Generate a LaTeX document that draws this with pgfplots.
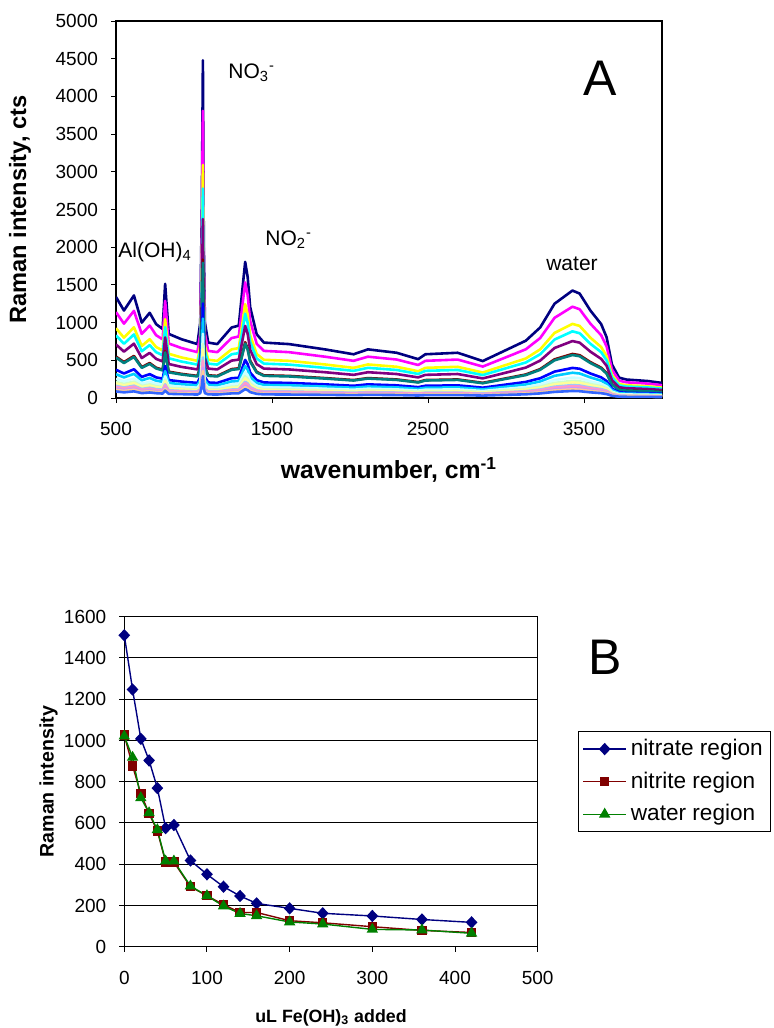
\documentclass[border=0pt]{standalone}
\usepackage{pgfplots}
\pgfplotsset{compat=1.18}
\usepackage{fontspec}
\setmainfont{Liberation Sans}
\definecolor{s01}{HTML}{000080}
\definecolor{s02}{HTML}{FF00FF}
\definecolor{s03}{HTML}{FFFF00}
\definecolor{s04}{HTML}{00FFFF}
\definecolor{s05}{HTML}{800080}
\definecolor{s06}{HTML}{800000}
\definecolor{s07}{HTML}{008080}
\definecolor{s08}{HTML}{0000FF}
\definecolor{s09}{HTML}{00CCFF}
\definecolor{s10}{HTML}{CCFFFF}
\definecolor{s11}{HTML}{CCFFCC}
\definecolor{s12}{HTML}{FFFF99}
\definecolor{s13}{HTML}{99CCFF}
\definecolor{s14}{HTML}{FF99CC}
\definecolor{s15}{HTML}{CC99FF}
\definecolor{s16}{HTML}{FFCC99}
\definecolor{s17}{HTML}{3366FF}
\definecolor{wgreen}{HTML}{008000}
\pgfplotsset{
  excel/.style={
    scale only axis,
    tick align=outside,
    xtick pos=bottom, ytick pos=left,
    major tick length=2.5pt,
    axis line style={line width=0.6pt},
    tick style={line width=0.5pt, black},
    tick label style={font=\fontsize{9.5}{11}\selectfont},
    /pgf/number format/assume math mode=true,
    /pgf/number format/1000 sep={},
    scaled ticks=false,
    clip=true,
  },
}
\begin{document}
\begin{tikzpicture}
\path[use as bounding box] (0pt,0pt) rectangle (386.5pt,-514pt);
% ---------------- panel A: spectra
\begin{axis}[
  excel,
  at={(58pt,-10.5pt)}, anchor=north west,
  width=273pt, height=188.5pt,
  xmin=500, xmax=4000, ymin=0, ymax=5000,
  xtick={500,1500,2500,3500},
  ytick distance=500,
  xticklabel style={yshift=-6pt},
  yticklabel style={xshift=-3pt},
  xlabel={wavenumber, cm\textsuperscript{-1}},
  ylabel={Raman intensity, cts},
  xlabel style={at={(axis description cs:0.5,-0.191)}, anchor=center, font=\fontsize{12.4}{14}\selectfont\bfseries},
  ylabel style={at={(axis description cs:-0.1758,0.5)}, anchor=center, font=\fontsize{11.8}{14}\selectfont\bfseries},
  every axis plot/.append style={line width=1.3pt, line join=round},
]
\addplot[s01] coordinates {(500,1340)(551,1160)(615,1360)(665,1000)(716,1130)(757,980)(799,915)(815,1515)(838,850)(919,780)(1022,715)(1040,1000)(1050,2500)(1057,4480)(1063,2000)(1070,1000)(1091,735)(1149,715)(1241,935)(1287,960)(1328,1805)(1344,1605)(1360,1205)(1402,845)(1448,735)(1609,715)(1839,645)(2023,580)(2115,645)(2299,600)(2437,515)(2483,580)(2690,600)(2851,490)(2989,625)(3127,760)(3219,935)(3311,1250)(3426,1425)(3472,1385)(3541,1160)(3610,980)(3645,805)(3679,445)(3725,270)(3771,245)(3909,225)(4000,200)};
\addplot[s02] coordinates {(500,1139)(551,986)(615,1156)(665,850)(716,961)(757,833)(799,778)(815,1288)(838,723)(919,663)(1022,608)(1040,850)(1050,2125)(1057,3808)(1063,1700)(1070,850)(1091,625)(1149,608)(1241,795)(1287,816)(1328,1534)(1344,1364)(1360,1024)(1402,718)(1448,625)(1609,608)(1839,548)(2023,493)(2115,548)(2299,510)(2437,438)(2483,493)(2690,510)(2851,417)(2989,531)(3127,646)(3219,795)(3311,1063)(3426,1211)(3472,1177)(3541,986)(3610,833)(3645,684)(3679,378)(3725,230)(3771,208)(3909,191)(4000,170)};
\addplot[s03] coordinates {(500,925)(551,800)(615,938)(665,690)(716,780)(757,676)(799,631)(815,1045)(838,587)(919,538)(1022,493)(1040,690)(1050,1725)(1057,3091)(1063,1380)(1070,690)(1091,507)(1149,493)(1241,645)(1287,662)(1328,1245)(1344,1107)(1360,831)(1402,583)(1448,507)(1609,493)(1839,445)(2023,400)(2115,445)(2299,414)(2437,355)(2483,400)(2690,414)(2851,338)(2989,431)(3127,524)(3219,645)(3311,863)(3426,983)(3472,956)(3541,800)(3610,676)(3645,555)(3679,307)(3725,186)(3771,169)(3909,155)(4000,138)};
\addplot[s04] coordinates {(500,831)(551,719)(615,843)(665,620)(716,701)(757,608)(799,567)(815,939)(838,527)(919,484)(1022,443)(1040,620)(1050,1550)(1057,2778)(1063,1240)(1070,620)(1091,456)(1149,443)(1241,580)(1287,595)(1328,1119)(1344,995)(1360,747)(1402,524)(1448,456)(1609,443)(1839,400)(2023,360)(2115,400)(2299,372)(2437,319)(2483,360)(2690,372)(2851,304)(2989,388)(3127,471)(3219,580)(3311,775)(3426,884)(3472,859)(3541,719)(3610,608)(3645,499)(3679,276)(3725,167)(3771,152)(3909,140)(4000,124)};
\addplot[s05] coordinates {(500,710)(551,615)(615,721)(665,530)(716,599)(757,519)(799,485)(815,803)(838,451)(919,413)(1022,379)(1040,530)(1050,1325)(1057,2374)(1063,1060)(1070,530)(1091,390)(1149,379)(1241,496)(1287,509)(1328,957)(1344,851)(1360,639)(1402,448)(1448,390)(1609,379)(1839,342)(2023,307)(2115,342)(2299,318)(2437,273)(2483,307)(2690,318)(2851,260)(2989,331)(3127,403)(3219,496)(3311,663)(3426,755)(3472,734)(3541,615)(3610,519)(3645,427)(3679,236)(3725,143)(3771,130)(3909,119)(4000,106)};
\addplot[s06] coordinates {(500,549)(551,476)(615,558)(665,410)(716,463)(757,402)(799,375)(815,621)(838,349)(919,320)(1022,293)(1040,410)(1050,1025)(1057,1837)(1063,820)(1070,410)(1091,301)(1149,293)(1241,383)(1287,394)(1328,740)(1344,658)(1360,494)(1402,346)(1448,301)(1609,293)(1839,264)(2023,238)(2115,264)(2299,246)(2437,211)(2483,238)(2690,246)(2851,201)(2989,256)(3127,312)(3219,383)(3311,513)(3426,584)(3472,568)(3541,476)(3610,402)(3645,330)(3679,182)(3725,111)(3771,100)(3909,92)(4000,82)};
\addplot[s07] coordinates {(500,536)(551,464)(615,544)(665,400)(716,452)(757,392)(799,366)(815,606)(838,340)(919,312)(1022,286)(1040,400)(1050,1000)(1057,1792)(1063,800)(1070,400)(1091,294)(1149,286)(1241,374)(1287,384)(1328,722)(1344,642)(1360,482)(1402,338)(1448,294)(1609,286)(1839,258)(2023,232)(2115,258)(2299,240)(2437,206)(2483,232)(2690,240)(2851,196)(2989,250)(3127,304)(3219,374)(3311,500)(3426,570)(3472,554)(3541,464)(3610,392)(3645,322)(3679,178)(3725,108)(3771,98)(3909,90)(4000,80)};
\addplot[s08] coordinates {(500,375)(551,325)(615,381)(665,280)(716,316)(757,274)(799,256)(815,424)(838,238)(919,218)(1022,200)(1040,280)(1050,700)(1057,1254)(1063,560)(1070,280)(1091,206)(1149,200)(1241,262)(1287,269)(1328,505)(1344,449)(1360,337)(1402,237)(1448,206)(1609,200)(1839,181)(2023,162)(2115,181)(2299,168)(2437,144)(2483,162)(2690,168)(2851,137)(2989,175)(3127,213)(3219,262)(3311,350)(3426,399)(3472,388)(3541,325)(3610,274)(3645,225)(3679,125)(3725,76)(3771,69)(3909,63)(4000,56)};
\addplot[s09] coordinates {(500,315)(551,273)(615,320)(665,235)(716,266)(757,230)(799,215)(815,356)(838,200)(919,183)(1022,168)(1040,235)(1050,588)(1057,1053)(1063,470)(1070,235)(1091,173)(1149,168)(1241,220)(1287,226)(1328,424)(1344,377)(1360,283)(1402,199)(1448,173)(1609,168)(1839,152)(2023,136)(2115,152)(2299,141)(2437,121)(2483,136)(2690,141)(2851,115)(2989,147)(3127,179)(3219,220)(3311,294)(3426,335)(3472,325)(3541,273)(3610,230)(3645,189)(3679,105)(3725,63)(3771,58)(3909,53)(4000,47)};
\addplot[s10] coordinates {(500,255)(551,220)(615,258)(665,190)(716,215)(757,186)(799,174)(815,288)(838,162)(919,148)(1022,136)(1040,190)(1050,475)(1057,851)(1063,380)(1070,190)(1091,140)(1149,136)(1241,178)(1287,182)(1328,343)(1344,305)(1360,229)(1402,161)(1448,140)(1609,136)(1839,123)(2023,110)(2115,123)(2299,114)(2437,98)(2483,110)(2690,114)(2851,93)(2989,119)(3127,144)(3219,178)(3311,238)(3426,271)(3472,263)(3541,220)(3610,186)(3645,153)(3679,85)(3725,51)(3771,47)(3909,43)(4000,38)};
\addplot[s11] coordinates {(500,214)(551,186)(615,218)(665,160)(716,181)(757,157)(799,146)(815,242)(838,136)(919,125)(1022,114)(1040,160)(1050,400)(1057,717)(1063,320)(1070,160)(1091,118)(1149,114)(1241,150)(1287,154)(1328,289)(1344,257)(1360,193)(1402,135)(1448,118)(1609,114)(1839,103)(2023,93)(2115,103)(2299,96)(2437,82)(2483,93)(2690,96)(2851,78)(2989,100)(3127,122)(3219,150)(3311,200)(3426,228)(3472,222)(3541,186)(3610,157)(3645,129)(3679,71)(3725,43)(3771,39)(3909,36)(4000,32)};
\addplot[s12] coordinates {(500,194)(551,168)(615,197)(665,145)(716,164)(757,142)(799,133)(815,220)(838,123)(919,113)(1022,104)(1040,145)(1050,363)(1057,650)(1063,290)(1070,145)(1091,107)(1149,104)(1241,136)(1287,139)(1328,262)(1344,233)(1360,175)(1402,123)(1448,107)(1609,104)(1839,94)(2023,84)(2115,94)(2299,87)(2437,75)(2483,84)(2690,87)(2851,71)(2989,91)(3127,110)(3219,136)(3311,181)(3426,207)(3472,201)(3541,168)(3610,142)(3645,117)(3679,65)(3725,39)(3771,36)(3909,33)(4000,29)};
\addplot[s13] coordinates {(500,161)(551,139)(615,163)(665,120)(716,136)(757,118)(799,110)(815,182)(838,102)(919,94)(1022,86)(1040,120)(1050,300)(1057,538)(1063,240)(1070,120)(1091,88)(1149,86)(1241,112)(1287,115)(1328,217)(1344,193)(1360,145)(1402,101)(1448,88)(1609,86)(1839,77)(2023,70)(2115,77)(2299,72)(2437,62)(2483,70)(2690,72)(2851,59)(2989,75)(3127,91)(3219,112)(3311,150)(3426,171)(3472,166)(3541,139)(3610,118)(3645,97)(3679,53)(3725,32)(3771,29)(3909,27)(4000,24)};
\addplot[s14] coordinates {(500,147)(551,128)(615,150)(665,110)(716,124)(757,108)(799,101)(815,167)(838,94)(919,86)(1022,79)(1040,110)(1050,275)(1057,493)(1063,220)(1070,110)(1091,81)(1149,79)(1241,103)(1287,106)(1328,199)(1344,177)(1360,133)(1402,93)(1448,81)(1609,79)(1839,71)(2023,64)(2115,71)(2299,66)(2437,57)(2483,64)(2690,66)(2851,54)(2989,69)(3127,84)(3219,103)(3311,138)(3426,157)(3472,152)(3541,128)(3610,108)(3645,89)(3679,49)(3725,30)(3771,27)(3909,25)(4000,22)};
\addplot[s15] coordinates {(500,121)(551,104)(615,122)(665,90)(716,102)(757,88)(799,82)(815,136)(838,77)(919,70)(1022,64)(1040,90)(1050,225)(1057,403)(1063,180)(1070,90)(1091,66)(1149,64)(1241,84)(1287,86)(1328,162)(1344,144)(1360,108)(1402,76)(1448,66)(1609,64)(1839,58)(2023,52)(2115,58)(2299,54)(2437,46)(2483,52)(2690,54)(2851,44)(2989,56)(3127,68)(3219,84)(3311,113)(3426,128)(3472,125)(3541,104)(3610,88)(3645,72)(3679,40)(3725,24)(3771,22)(3909,20)(4000,18)};
\addplot[s16] coordinates {(500,107)(551,93)(615,109)(665,80)(716,90)(757,78)(799,73)(815,121)(838,68)(919,62)(1022,57)(1040,80)(1050,200)(1057,358)(1063,160)(1070,80)(1091,59)(1149,57)(1241,75)(1287,77)(1328,144)(1344,128)(1360,96)(1402,68)(1448,59)(1609,57)(1839,52)(2023,46)(2115,52)(2299,48)(2437,41)(2483,46)(2690,48)(2851,39)(2989,50)(3127,61)(3219,75)(3311,100)(3426,114)(3472,111)(3541,93)(3610,78)(3645,64)(3679,36)(3725,22)(3771,20)(3909,18)(4000,16)};
\addplot[s17] coordinates {(500,87)(551,75)(615,88)(665,65)(716,73)(757,64)(799,59)(815,98)(838,55)(919,51)(1022,46)(1040,65)(1050,163)(1057,291)(1063,130)(1070,65)(1091,48)(1149,46)(1241,61)(1287,62)(1328,117)(1344,104)(1360,78)(1402,55)(1448,48)(1609,46)(1839,42)(2023,38)(2115,42)(2299,39)(2437,33)(2483,38)(2690,39)(2851,32)(2989,41)(3127,49)(3219,61)(3311,81)(3426,93)(3472,90)(3541,75)(3610,64)(3645,52)(3679,29)(3725,18)(3771,16)(3909,15)(4000,13)};
\end{axis}
\node[anchor=center] at (300pt,-39pt) {\fontsize{25}{25}\selectfont A};
\node[anchor=west, inner sep=0pt] at (114pt,-36.5pt) {\fontsize{10.5}{12}\selectfont NO\textsubscript{3}\textsuperscript{-}};
\node[anchor=west, inner sep=0pt] at (59pt,-126pt) {\fontsize{10.5}{12}\selectfont Al(OH)\textsubscript{4}};
\node[anchor=west, inner sep=0pt] at (132.5pt,-120pt) {\fontsize{10.5}{12}\selectfont NO\textsubscript{2}\textsuperscript{-}};
\node[anchor=center, inner sep=0pt] at (286pt,-132pt) {\fontsize{10.5}{12}\selectfont water};
% ---------------- panel B: titration
\begin{axis}[
  excel,
  at={(62.15pt,-308.35pt)}, anchor=north west,
  width=206.7pt, height=165pt,
  xmin=0, xmax=500, ymin=0, ymax=1600,
  xtick distance=100, ytick distance=200,
  ymajorgrids, major grid style={black, line width=0.5pt},
  xticklabel style={yshift=-6pt},
  yticklabel style={xshift=-3pt},
  xlabel={uL Fe(OH)\textsubscript{3} added},
  ylabel={Raman intensity},
  xlabel style={at={(axis description cs:0.5,-0.215)}, anchor=center, font=\fontsize{8.9}{11}\selectfont\bfseries},
  ylabel style={at={(axis description cs:-0.183,0.5)}, anchor=center, font=\fontsize{9.8}{11}\selectfont\bfseries},
  legend style={at={(1.0975,0.654)}, anchor=north west, draw=black, line width=0.5pt,
    font=\fontsize{11.3}{13}\selectfont, legend cell align=left, row sep=2.6pt,
    inner xsep=2pt, inner ysep=2pt},
  legend image code/.code={\draw[mark repeat=2, mark phase=2, #1] plot coordinates {(0pt,0pt) (10.75pt,0pt) (21.5pt,0pt)};},
  every axis plot/.append style={line width=0.7pt},
]
\addplot[s01, mark=diamond*, mark size=2.6pt, mark options={xscale=1.25}] coordinates {(0,1510)(10,1247)(20,1008)(30,903)(40,769)(50,575)(60,590)(80,418)(100,351)(120,291)(140,246)(160,210)(200,186)(240,162)(300,149)(360,132)(420,118)};
\addlegendentry{nitrate region}
\addplot[s06, mark=square*, mark size=2pt] coordinates {(0,1026)(10,877)(20,742)(30,645)(40,561)(50,410)(60,410)(80,291)(100,247)(120,204)(140,166)(160,166)(200,126)(240,116)(300,97)(360,79)(420,69)};
\addlegendentry{nitrite region}
\addplot[wgreen, mark=triangle*, mark size=2.6pt] coordinates {(0,1021)(10,918)(20,722)(30,649)(40,567)(50,415)(60,415)(80,294)(100,247)(120,197)(140,161)(160,150)(200,120)(240,110)(300,84)(360,81)(420,65)};
\addlegendentry{water region}
\end{axis}
\node[anchor=center] at (302.5pt,-328.5pt) {\fontsize{25}{25}\selectfont B};
\end{tikzpicture}
\end{document}
